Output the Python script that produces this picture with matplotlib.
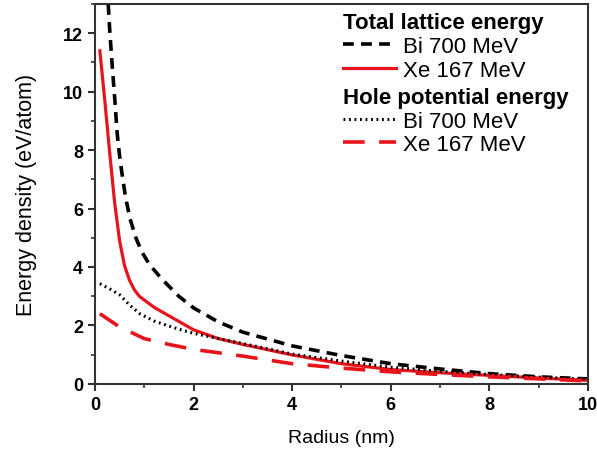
import numpy as np
import matplotlib.pyplot as plt
from matplotlib.ticker import MultipleLocator

plt.rcParams['font.family'] = ['Liberation Sans', 'DejaVu Sans']

# total lattice energy
r_bi_tot = [0.27, 0.30, 0.35, 0.40, 0.45, 0.50, 0.54, 0.62, 0.71, 0.83, 0.95, 1.1, 1.35, 1.7, 2.0, 2.5, 3.0, 4.0, 5.0, 6.0, 7.0, 8.0, 9.0, 10.0]
e_bi_tot = [13.0, 12.1, 10.9, 9.8, 8.6, 7.8, 7.3, 6.4, 5.66, 5.0, 4.52, 4.1, 3.6, 3.0, 2.6, 2.12, 1.77, 1.3, 0.97, 0.69, 0.51, 0.35, 0.24, 0.17]
r_xe_tot = [0.1, 0.2, 0.3, 0.4, 0.5, 0.6, 0.7, 0.8, 0.9, 1.0, 1.2, 1.5, 2.0, 2.5, 3.0, 4.0, 5.0, 6.0, 7.0, 8.0, 9.0, 10.0]
e_xe_tot = [11.4, 9.7, 7.9, 6.2, 4.9, 4.05, 3.55, 3.22, 3.0, 2.87, 2.62, 2.33, 1.85, 1.55, 1.35, 0.99, 0.69, 0.49, 0.38, 0.29, 0.2, 0.12]

# hole potential energy
r_bi_hole = [0.1, 0.3, 0.5, 0.7, 0.91, 1.2, 1.66, 2.0, 3.0, 4.0, 5.0, 6.0, 7.0, 8.0, 9.0, 10.0]
e_bi_hole = [3.43, 3.25, 3.05, 2.7, 2.4, 2.15, 1.89, 1.73, 1.38, 1.02, 0.78, 0.57, 0.43, 0.32, 0.23, 0.16]
r_xe_hole = [0.1, 0.5, 1.0, 1.5, 2.0, 3.0, 4.0, 5.0, 6.0, 7.0, 8.0, 9.0, 10.0]
e_xe_hole = [2.4, 1.95, 1.55, 1.35, 1.18, 0.95, 0.69, 0.54, 0.41, 0.32, 0.24, 0.17, 0.1]

fig = plt.figure(figsize=(5.97, 4.56), dpi=100)
ax = fig.add_axes([0.159, 0.156, 0.826, 0.833])

l1, = ax.plot(r_bi_tot, e_bi_tot, color='black', lw=2.6, dashes=(3, 2))
l2, = ax.plot(r_xe_tot, e_xe_tot, color='#e8141c', lw=2.3)
l3, = ax.plot(r_bi_hole, e_bi_hole, color='black', lw=2.2, dashes=(0.6, 1.2))
l4, = ax.plot(r_xe_hole, e_xe_hole, color='#e8141c', lw=2.6, dashes=(6, 4))

ax.set_xlim(0, 10)
ax.set_ylim(0, 13)
ax.xaxis.set_major_locator(MultipleLocator(2))
ax.xaxis.set_minor_locator(MultipleLocator(1))
ax.yaxis.set_major_locator(MultipleLocator(2))
ax.yaxis.set_minor_locator(MultipleLocator(1))
ax.tick_params(which='major', direction='out', length=5, width=1.5, labelsize=13, colors='#333333')
ax.tick_params(which='minor', direction='out', length=3, width=1.2, colors='#333333')
for lab in ax.get_xticklabels() + ax.get_yticklabels():
    lab.set_fontweight('bold')
    lab.set_color('black')
for sp in ax.spines.values():
    sp.set_linewidth(1.5)
    sp.set_color('#333333')

ax.set_xlabel('Radius (nm)', fontsize=14, labelpad=12)
ax.set_ylabel('Energy density (eV/atom)', fontsize=15.5, labelpad=19)


def group_legend(handles, title, top):
    leg = ax.legend(handles, ['Bi 700 MeV', 'Xe 167 MeV'], title=title,
                    loc='upper left', bbox_to_anchor=(0.503, top), frameon=False,
                    fontsize=16, handlelength=2.4, handletextpad=0.3,
                    labelspacing=0.12, borderaxespad=0, borderpad=0)
    leg.get_title().set_fontweight('bold')
    leg.get_title().set_fontsize(16)
    leg._legend_box.align = 'left'
    leg._legend_box.sep = 2
    return leg


ax.add_artist(group_legend([l1, l2], 'Total lattice energy', 0.978))
group_legend([l3, l4], 'Hole potential energy', 0.782)

fig.savefig('out.png', dpi=100)
